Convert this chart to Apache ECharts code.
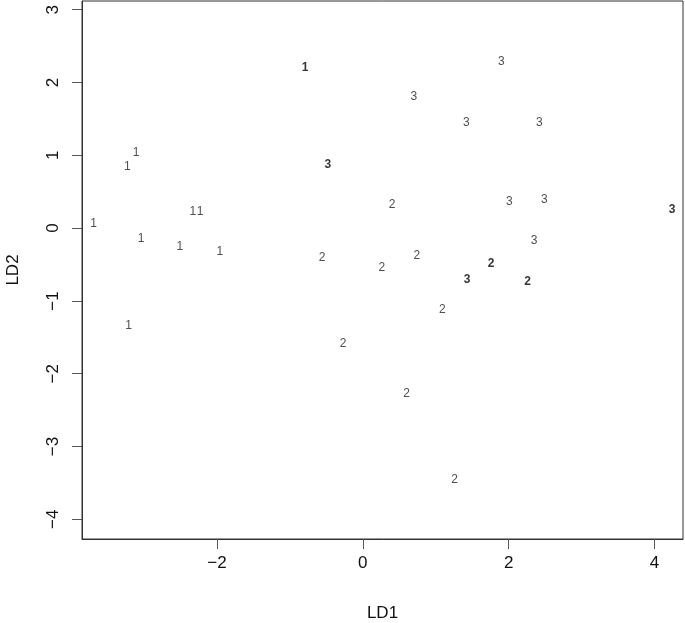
<!DOCTYPE html>
<html>
<head>
<meta charset="utf-8">
<script src="https://cdn.jsdelivr.net/npm/echarts@6/dist/echarts.min.js"></script>
<style>
  html, body { margin: 0; padding: 0; background: #fff; }
  #main { width: 685px; height: 623px; }
</style>
</head>
<body>
<div id="main"></div>
<script>
// LDA scores
var ld1 = [-3.11, -3.23, -3.69, -2.33, -2.23, -3.04, -2.51, -1.96, -3.21, -0.79,
           1.90, 0.70, 1.42, 2.42, -0.48, 0.40, 2.01, 2.49, 4.24, 2.35,
           -0.56, 0.26, 0.74, 1.76, 1.43, 2.26, 1.09, -0.27, 0.60, 1.26];
var ld2 = [1.03, 0.85, 0.06, 0.22, 0.23, -0.14, -0.25, -0.33, -1.34, 2.21,
           2.29, 1.80, 1.45, 1.45, 0.87, 0.32, 0.36, 0.39, 0.26, -0.17,
           -0.41, -0.54, -0.38, -0.49, -0.71, -0.73, -1.12, -1.59, -2.27, -3.45];
var group = [1, 1, 1, 1, 1, 1, 1, 1, 1, 1,
             3, 3, 3, 3, 3, 2, 3, 3, 3, 3,
             2, 2, 2, 2, 3, 2, 2, 2, 2, 2];
var bold = [0, 0, 0, 0, 0, 0, 0, 0, 0, 1,
            0, 0, 0, 0, 1, 0, 0, 0, 1, 0,
            0, 0, 0, 1, 1, 1, 0, 0, 0, 0];
var xTicks = [-2, 0, 2, 4];
var yTicks = [-4, -3, -2, -1, 0, 1, 2, 3];

var FONT = '"Liberation Sans", Arial, Helvetica, sans-serif';
function minus(v) { return String(v).replace('-', '\u2212'); }

var plain = [], heavy = [];
for (var i = 0; i < ld1.length; i++) {
    var p = [ld1[i], ld2[i], group[i]];
    (bold[i] ? heavy : plain).push(p);
}

function textSeries(data, weight) {
    return {
        type: 'scatter',
        data: data,
        symbol: 'circle',
        symbolSize: 1,
        itemStyle: { color: 'rgba(0,0,0,0)' },
        silent: true,
        label: {
            show: true,
            position: 'inside',
            formatter: function (p) { return p.value[2]; },
            color: weight === 'bold' ? '#000' : '#222',
            fontFamily: FONT,
            fontSize: 12,
            fontWeight: weight
        }
    };
}

var chart = echarts.init(document.getElementById('main'), null, { renderer: 'canvas' });

chart.setOption({
    backgroundColor: '#fff',
    animation: false,
    grid: {
        left: 82, right: 2, top: 1, bottom: 84,
        outerBoundsMode: 'none',
        containLabel: false,
        show: true, borderColor: '#333', borderWidth: 1
    },
    xAxis: {
        type: 'value',
        min: -3.85, max: 4.39,
        name: 'LD1',
        nameLocation: 'middle',
        nameGap: 66,
        nameTextStyle: { fontFamily: FONT, fontSize: 17, color: '#111' },
        splitLine: { show: false },
        axisLine: { show: true, onZero: false, lineStyle: { color: '#333' } },
        axisTick: { show: true, length: 10, customValues: xTicks, lineStyle: { color: '#555' } },
        axisLabel: {
            customValues: xTicks, margin: 16,
            fontFamily: FONT, fontSize: 17, color: '#111',
            formatter: minus
        }
    },
    yAxis: {
        type: 'value',
        min: -4.27, max: 3.12,
        name: 'LD2',
        nameLocation: 'middle',
        nameGap: 60,
        nameRotate: 90,
        nameTextStyle: { fontFamily: FONT, fontSize: 17, color: '#111' },
        splitLine: { show: false },
        axisLine: { show: true, onZero: false, lineStyle: { color: '#333' } },
        axisTick: { show: true, length: 10, customValues: yTicks, lineStyle: { color: '#555' } },
        axisLabel: {
            customValues: yTicks, margin: 20, rotate: 90,
            fontFamily: FONT, fontSize: 17, color: '#111',
            formatter: minus
        }
    },
    series: [textSeries(plain, 'normal'), textSeries(heavy, 'bold')]
});
</script>
</body>
</html>
